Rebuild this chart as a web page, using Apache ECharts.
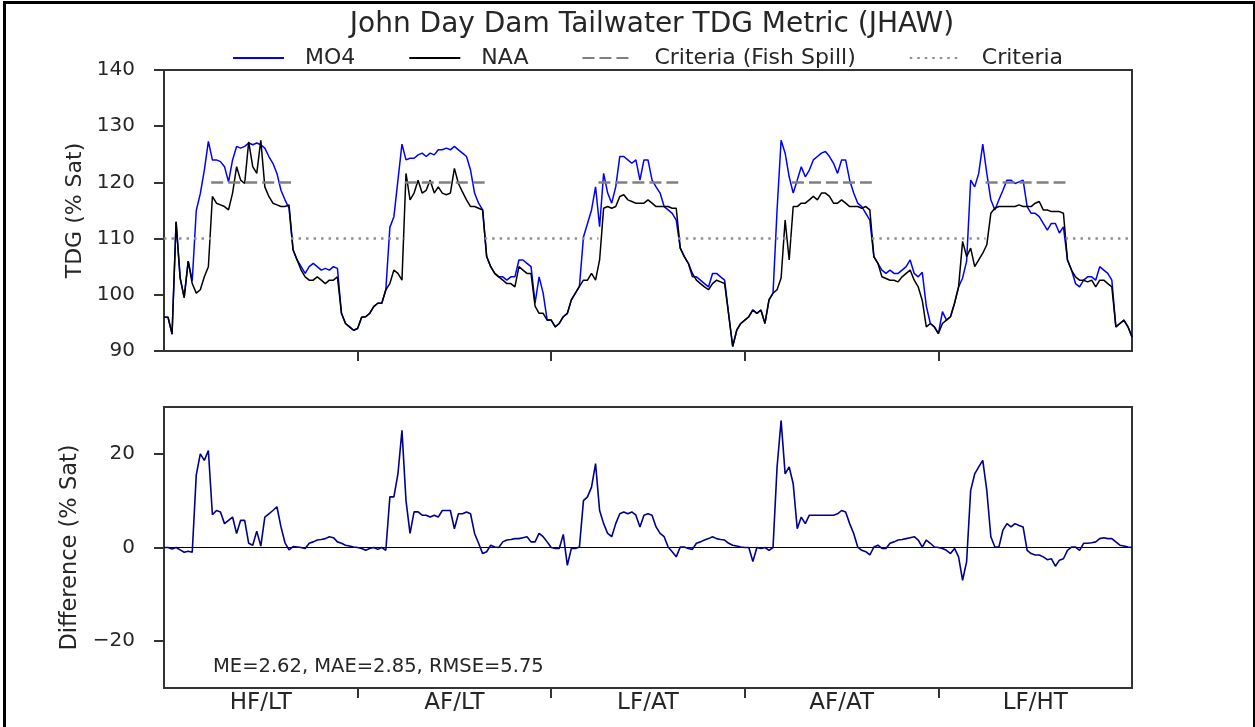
<!DOCTYPE html>
<html>
<head>
<meta charset="utf-8">
<script src="https://cdn.jsdelivr.net/npm/echarts@6/dist/echarts.min.js"></script>
<style>
html,body{margin:0;padding:0;background:#fff;}
#chart{width:1255px;height:727px;}
</style>
</head>
<body>
<div id="chart"></div>
<script>
// ---------------- DATA ----------------
const categories = ['HF/LT', 'AF/LT', 'LF/AT', 'AF/AT', 'LF/HT'];
const samplesPerScenario = 48;          // samples per scenario year
const spillWindow = [11.7, 31.5];       // fish-spill season inside each scenario (sample units)
const criteriaSpill = 120;              // % Sat during fish spill
const criteriaBase = 110;               // % Sat otherwise
const diffTicks = [-20, 0, 20];
const statsText = 'ME=2.62, MAE=2.85, RMSE=5.75';

const mo4 = [
  // HF/LT
  96, 96, 93, 113, 103, 99.5, 106, 102.5, 115, 118, 122.2, 127.3, 124, 124, 123.7, 122.8, 120.1, 124, 126.4, 126.1, 126.4, 127, 126.7, 127, 126.7, 126.1, 124.6, 123.4, 121.6, 118.6, 116.9, 115.4, 108, 106.2, 105, 103.8, 105, 105.6, 105, 104.4, 104.7, 104.4, 105, 104.7, 96.7, 94.9, 94.3, 93.7,
  // AF/LT
  94, 96, 96.1, 96.7, 97.9, 98.5, 98.5, 100.9, 112, 113.9, 120.4, 126.8, 124, 124.3, 124.3, 124.9, 125.2, 124.6, 125.2, 124.9, 125.8, 125.8, 126.1, 125.8, 126.4, 125.8, 125.2, 124.6, 122.2, 118.1, 116.3, 115.1, 106.8, 105, 103.8, 103.2, 103.2, 102.6, 103.2, 103.2, 106.2, 106.2, 105.6, 105, 98.5, 103.2, 100.3, 95.5,
  // LF/AT
  95.5, 94.3, 94.9, 96.1, 96.7, 99.1, 100.3, 101.5, 110.3, 112.7, 115.1, 119.2, 112.1, 121.6, 118.1, 116.3, 119.2, 124.6, 124.6, 124, 123.4, 124, 120.4, 124, 124, 120.4, 119.2, 118.1, 115.7, 115.1, 114.5, 113.3, 108.3, 106.8, 105.6, 103.2, 103.2, 102.6, 102, 101.4, 103.8, 103.8, 103.2, 102.6, 96.5, 90.8, 93.7, 94.9,
  // AF/AT
  95.5, 96.1, 97.3, 96.7, 97.3, 94.9, 99.1, 100.3, 115.1, 127.5, 125.2, 121, 118.1, 120.4, 122.8, 121, 122.2, 124, 124.6, 125.2, 125.5, 124.6, 123.4, 121.6, 124, 124, 120.4, 118.1, 116.3, 115.7, 114.5, 113.3, 106.8, 105.6, 104.4, 103.8, 104.4, 103.8, 103.8, 104.4, 105, 106.2, 103.8, 103.2, 104, 98, 94.9, 94.3,
  // LF/HT
  93.1, 97, 95.5, 96.1, 98.5, 101.4, 103, 106, 120.4, 119.2, 121.6, 126.8, 121.6, 116.9, 115.1, 116.9, 118.6, 120.4, 120.4, 119.8, 120.1, 120.4, 115.7, 114.5, 114.5, 113.9, 112.7, 111.5, 112.7, 112.7, 111, 112.1, 106.2, 104.4, 102, 101.4, 102.6, 103.2, 103.2, 102.6, 105, 104.4, 103.8, 102.6, 94.3, 94.9, 95.5, 94.3,
  92.5
];

const naa = [
  // HF/LT
  96, 96, 93, 113, 103, 99.5, 106, 102, 100.3, 100.9, 103.2, 105, 117.5, 116.3, 116, 115.7, 115.1, 118.1, 122.8, 120.4, 119.8, 127.2, 122.8, 121.6, 127.5, 119.2, 117.5, 116.3, 116, 115.7, 115.7, 116, 108, 106.2, 104.4, 103.2, 102.6, 102.6, 103.2, 102.6, 102, 102.6, 102.6, 103.2, 96.7, 94.9, 94.3, 93.7,
  // AF/LT
  94, 96, 96.1, 96.7, 97.9, 98.5, 98.5, 100.9, 102, 104.4, 103.8, 102.6, 121.6, 116.9, 118.1, 120.4, 118.1, 118.6, 120.4, 118.1, 119.2, 118.1, 117.8, 118.1, 122.5, 119.8, 118.3, 116.9, 115.7, 115.7, 115.4, 115.1, 106.8, 105, 103.8, 103.2, 102.6, 102, 102, 101.4, 105, 104.4, 103.8, 103.8, 98, 96.7, 96.7, 95.5,
  // LF/AT
  95.5, 94.3, 94.9, 96.1, 96.7, 99.1, 100.3, 101.5, 102.6, 102.6, 103.8, 102.6, 106.2, 115.4, 115.7, 115.4, 115.7, 117.5, 117.8, 116.9, 116.6, 116.3, 116.3, 116.3, 116.9, 116.3, 115.7, 115.7, 115.7, 115.7, 115.4, 115.4, 108.3, 106.8, 105.6, 103.8, 102.6, 102, 101.4, 100.9, 102, 102.6, 102.3, 102, 96.5, 90.8, 93.7, 94.9,
  // AF/AT
  95.5, 96.1, 97.3, 96.7, 97.3, 94.9, 99.1, 100.3, 100.9, 103, 113.3, 106.2, 115.7, 115.7, 116.3, 116.3, 116.9, 117.5, 116.9, 118.1, 118.1, 117.5, 116.3, 116.3, 116.9, 116.3, 115.7, 115.7, 115.7, 115.4, 115.7, 115.1, 106.8, 105.6, 103.2, 102.9, 102.6, 102.6, 102.3, 103.2, 103.8, 104.4, 102.6, 101.4, 99, 94.3, 94.9, 94.3,
  // LF/HT
  93.1, 94.9, 95.5, 96.1, 98.5, 101.4, 109.5, 106.8, 108.3, 105, 106.2, 107.4, 108.9, 114.5, 115.4, 115.7, 115.7, 115.7, 115.7, 115.7, 116, 115.7, 115.7, 115.7, 116.3, 116.6, 115.1, 115.1, 114.8, 114.8, 114.8, 114.5, 106.2, 104.4, 103.2, 102.6, 102.6, 102.3, 102.6, 101.4, 102.6, 102.6, 102, 101.4, 94.3, 94.9, 95.5, 94.3,
  92.5
];

const diff = [
  // HF/LT
  0, 0, -0.3, 0, -0.5, -1, -0.8, -1, 15.5, 20, 18.6, 20.7, 7, 7.9, 7.6, 5.1, 5.8, 6.5, 3, 5.8, 5.8, 0.9, 0.5, 3.5, 0.3, 6.5, 7.2, 7.9, 8.7, 4.4, 1, -0.5, 0.2, 0.1, 0, -0.2, 0.9, 1.2, 1.6, 1.7, 1.9, 2.3, 2.1, 1.2, 0.9, 0.5, 0.3, 0.1,
  // AF/LT
  0, -0.2, -0.6, -0.2, 0, -0.4, 0, -0.6, 10.8, 10.8, 15.7, 25, 10, 3, 7.6, 7.6, 6.9, 6.9, 6.5, 6.9, 6.5, 7.9, 7.9, 7.9, 4, 7.2, 7.2, 7.6, 7.2, 3, 0.9, -1.3, -0.9, 0.5, 0.1, 0, 1.2, 1.6, 1.7, 1.9, 1.9, 2.1, 2.3, 1.2, 1.2, 3, 2.3, 1.2,
  // LF/AT
  0, -0.2, -0.2, 2.8, -3.8, -0.2, -0.2, 0.1, 10, 10.8, 12.9, 17.9, 7.9, 5.1, 3, 2.3, 5.1, 7.2, 7.6, 7.2, 7.6, 6.9, 4.4, 6.9, 7.2, 6.9, 4.4, 3, 2.3, 0.1, -0.9, -2, 0.1, 0.1, -0.2, -0.4, 0.9, 1.2, 1.6, 1.9, 2.3, 1.9, 1.7, 1.6, 0.9, 0.5, 0.3, 0.1,
  // AF/AT
  0, 0, -3, 0, -0.2, 0, -0.6, 0, 17.2, 27.1, 15.7, 17.2, 13.6, 4, 6.5, 5.1, 6.9, 6.9, 6.9, 6.9, 6.9, 6.9, 6.9, 7.2, 7.9, 7.6, 5.1, 3, 0.1, -0.6, -0.9, -1.6, 0.1, 0.5, -0.2, -0.2, 0.9, 1.2, 1.6, 1.7, 1.9, 2.1, 2.3, 1.6, 0.1, 1.6, 0.9, 0.1,
  // LF/HT
  0, -0.2, -0.6, -1.3, -0.2, -2, -7, -3, 12.2, 15.7, 17.2, 18.6, 12.2, 2.3, 0.1, 0.1, 3.7, 5.1, 4.4, 5.1, 4.7, 4.4, -0.6, -1.3, -1.6, -1.6, -2, -2.6, -2.4, -4, -2.7, -2.4, -0.6, 0.1, 0.1, -0.6, 0.9, 0.9, 1, 1.2, 1.9, 2.1, 1.9, 1.9, 1.2, 0.5, 0.3, 0.1,
  0
];

// ---------------- BUILD ----------------
const FONT = 'DejaVu Sans';
const TXT = '#262626';
const AX = '#333333';
const nScen = categories.length;
const xMax = nScen * samplesPerScenario;
const toXY = arr => arr.map((v, i) => [i, v]);

const spillData = [];
const baseData = [];
let prevEnd = 0;
for (let s = 0; s < nScen; s++) {
  const a = s * samplesPerScenario + spillWindow[0];
  const b = s * samplesPerScenario + spillWindow[1];
  spillData.push([a, criteriaSpill], [b, criteriaSpill], [b, null]);
  baseData.push([prevEnd, criteriaBase], [a, criteriaBase], [a, null]);
  prevEnd = b;
}
baseData.push([prevEnd, criteriaBase], [xMax, criteriaBase]);

const boundaries = [];
for (let s = 1; s < nScen; s++) boundaries.push(s * samplesPerScenario);
const centers = categories.map((c, s) => (s + 0.5) * samplesPerScenario);

const minus = v => String(v).replace('-', '\u2212');

const commonX = {
  type: 'value', min: 0, max: xMax,
  splitLine: { show: false },
  axisLine: { show: true, onZero: false, lineStyle: { color: AX, width: 2 } },
  axisTick: { show: true, inside: false, length: 10, customValues: boundaries, lineStyle: { color: AX, width: 2 } }
};

const chart = echarts.init(document.getElementById('chart'), null, { renderer: 'canvas' });
chart.setOption({
  animation: false,
  backgroundColor: '#ffffff',
  title: {
    text: 'John Day Dam Tailwater TDG Metric (JHAW)',
    left: 647, top: 6, textAlign: 'center',
    textStyle: { fontFamily: FONT, fontSize: 28, fontWeight: 'normal', color: TXT }
  },
  legend: {
    left: 227, top: 42,
    itemWidth: 51, itemHeight: 12, itemGap: 53,
    itemStyle: { color: 'rgba(0,0,0,0)', borderColor: 'rgba(0,0,0,0)', borderWidth: 0 },
    textStyle: { fontFamily: FONT, fontSize: 22, color: TXT, padding: [0, 0, 0, 16] },
    data: ['MO4', 'NAA', 'Criteria (Fish Spill)', 'Criteria']
  },
  grid: [
    { left: 164, right: 123, top: 70, height: 281, show: true, borderColor: AX, borderWidth: 2 },
    { left: 164, right: 123, top: 407, height: 281, show: true, borderColor: AX, borderWidth: 2 }
  ],
  xAxis: [
    Object.assign({}, commonX, { gridIndex: 0, axisLabel: { show: false } }),
    Object.assign({}, commonX, {
      gridIndex: 1,
      axisLabel: {
        show: true, customValues: centers, margin: 4,
        fontFamily: FONT, fontSize: 23, color: TXT,
        formatter: v => categories[Math.round(v / samplesPerScenario - 0.5)]
      }
    })
  ],
  yAxis: [
    {
      gridIndex: 0, type: 'value', min: 90, max: 140, interval: 10,
      name: 'TDG (% Sat)', nameLocation: 'middle', nameGap: 78,
      nameTextStyle: { fontFamily: FONT, fontSize: 22, color: TXT },
      splitLine: { show: false },
      axisLine: { show: true, onZero: false, lineStyle: { color: AX, width: 2 } },
      axisTick: { show: true, length: 10, lineStyle: { color: AX, width: 2 } },
      axisLabel: { margin: 29, fontFamily: FONT, fontSize: 20, color: TXT }
    },
    {
      gridIndex: 1, type: 'value', min: -30, max: 30,
      name: 'Difference (% Sat)', nameLocation: 'middle', nameGap: 78,
      nameTextStyle: { fontFamily: FONT, fontSize: 22.5, color: TXT },
      splitLine: { show: false },
      axisLine: { show: true, onZero: false, lineStyle: { color: AX, width: 2 } },
      axisTick: { show: true, length: 10, customValues: diffTicks, lineStyle: { color: AX, width: 2 } },
      axisLabel: { margin: 29, customValues: diffTicks, fontFamily: FONT, fontSize: 20, color: TXT, formatter: minus }
    }
  ],
  series: [
    { name: 'MO4', type: 'line', xAxisIndex: 0, yAxisIndex: 0, data: toXY(mo4), symbol: 'none',
      lineStyle: { color: '#0000ff', width: 1.5 }, itemStyle: { color: '#0000ff' } },
    { name: 'NAA', type: 'line', xAxisIndex: 0, yAxisIndex: 0, data: toXY(naa), symbol: 'none',
      lineStyle: { color: '#000000', width: 1.5 }, itemStyle: { color: '#000000' } },
    { name: 'Criteria (Fish Spill)', type: 'line', xAxisIndex: 0, yAxisIndex: 0, data: spillData, symbol: 'none', connectNulls: false,
      lineStyle: { color: '#808080', width: 2.5, type: [12, 5] }, itemStyle: { color: '#808080' } },
    { name: 'Criteria', type: 'line', xAxisIndex: 0, yAxisIndex: 0, data: baseData, symbol: 'none', connectNulls: false,
      lineStyle: { color: '#909090', width: 2.5, type: [2.5, 5] }, itemStyle: { color: '#909090' } },
    { name: 'zero', type: 'line', xAxisIndex: 1, yAxisIndex: 1, data: [[0, 0], [xMax, 0]], symbol: 'none', silent: true,
      lineStyle: { color: '#000000', width: 1.2 } },
    { name: 'Difference', type: 'line', xAxisIndex: 1, yAxisIndex: 1, data: toXY(diff), symbol: 'none',
      lineStyle: { color: '#00008b', width: 1.6 }, itemStyle: { color: '#00008b' } }
  ],
  graphic: [
    { type: 'text', left: 213, top: 657, style: { text: statsText, font: '19.5px "DejaVu Sans"', fill: TXT } },
    { type: 'rect', left: 2, top: 0, shape: { x: 0, y: 0, width: 1250, height: 740 }, silent: true,
      style: { fill: 'none', stroke: '#000', lineWidth: 3 } }
  ]
});
</script>
</body>
</html>
